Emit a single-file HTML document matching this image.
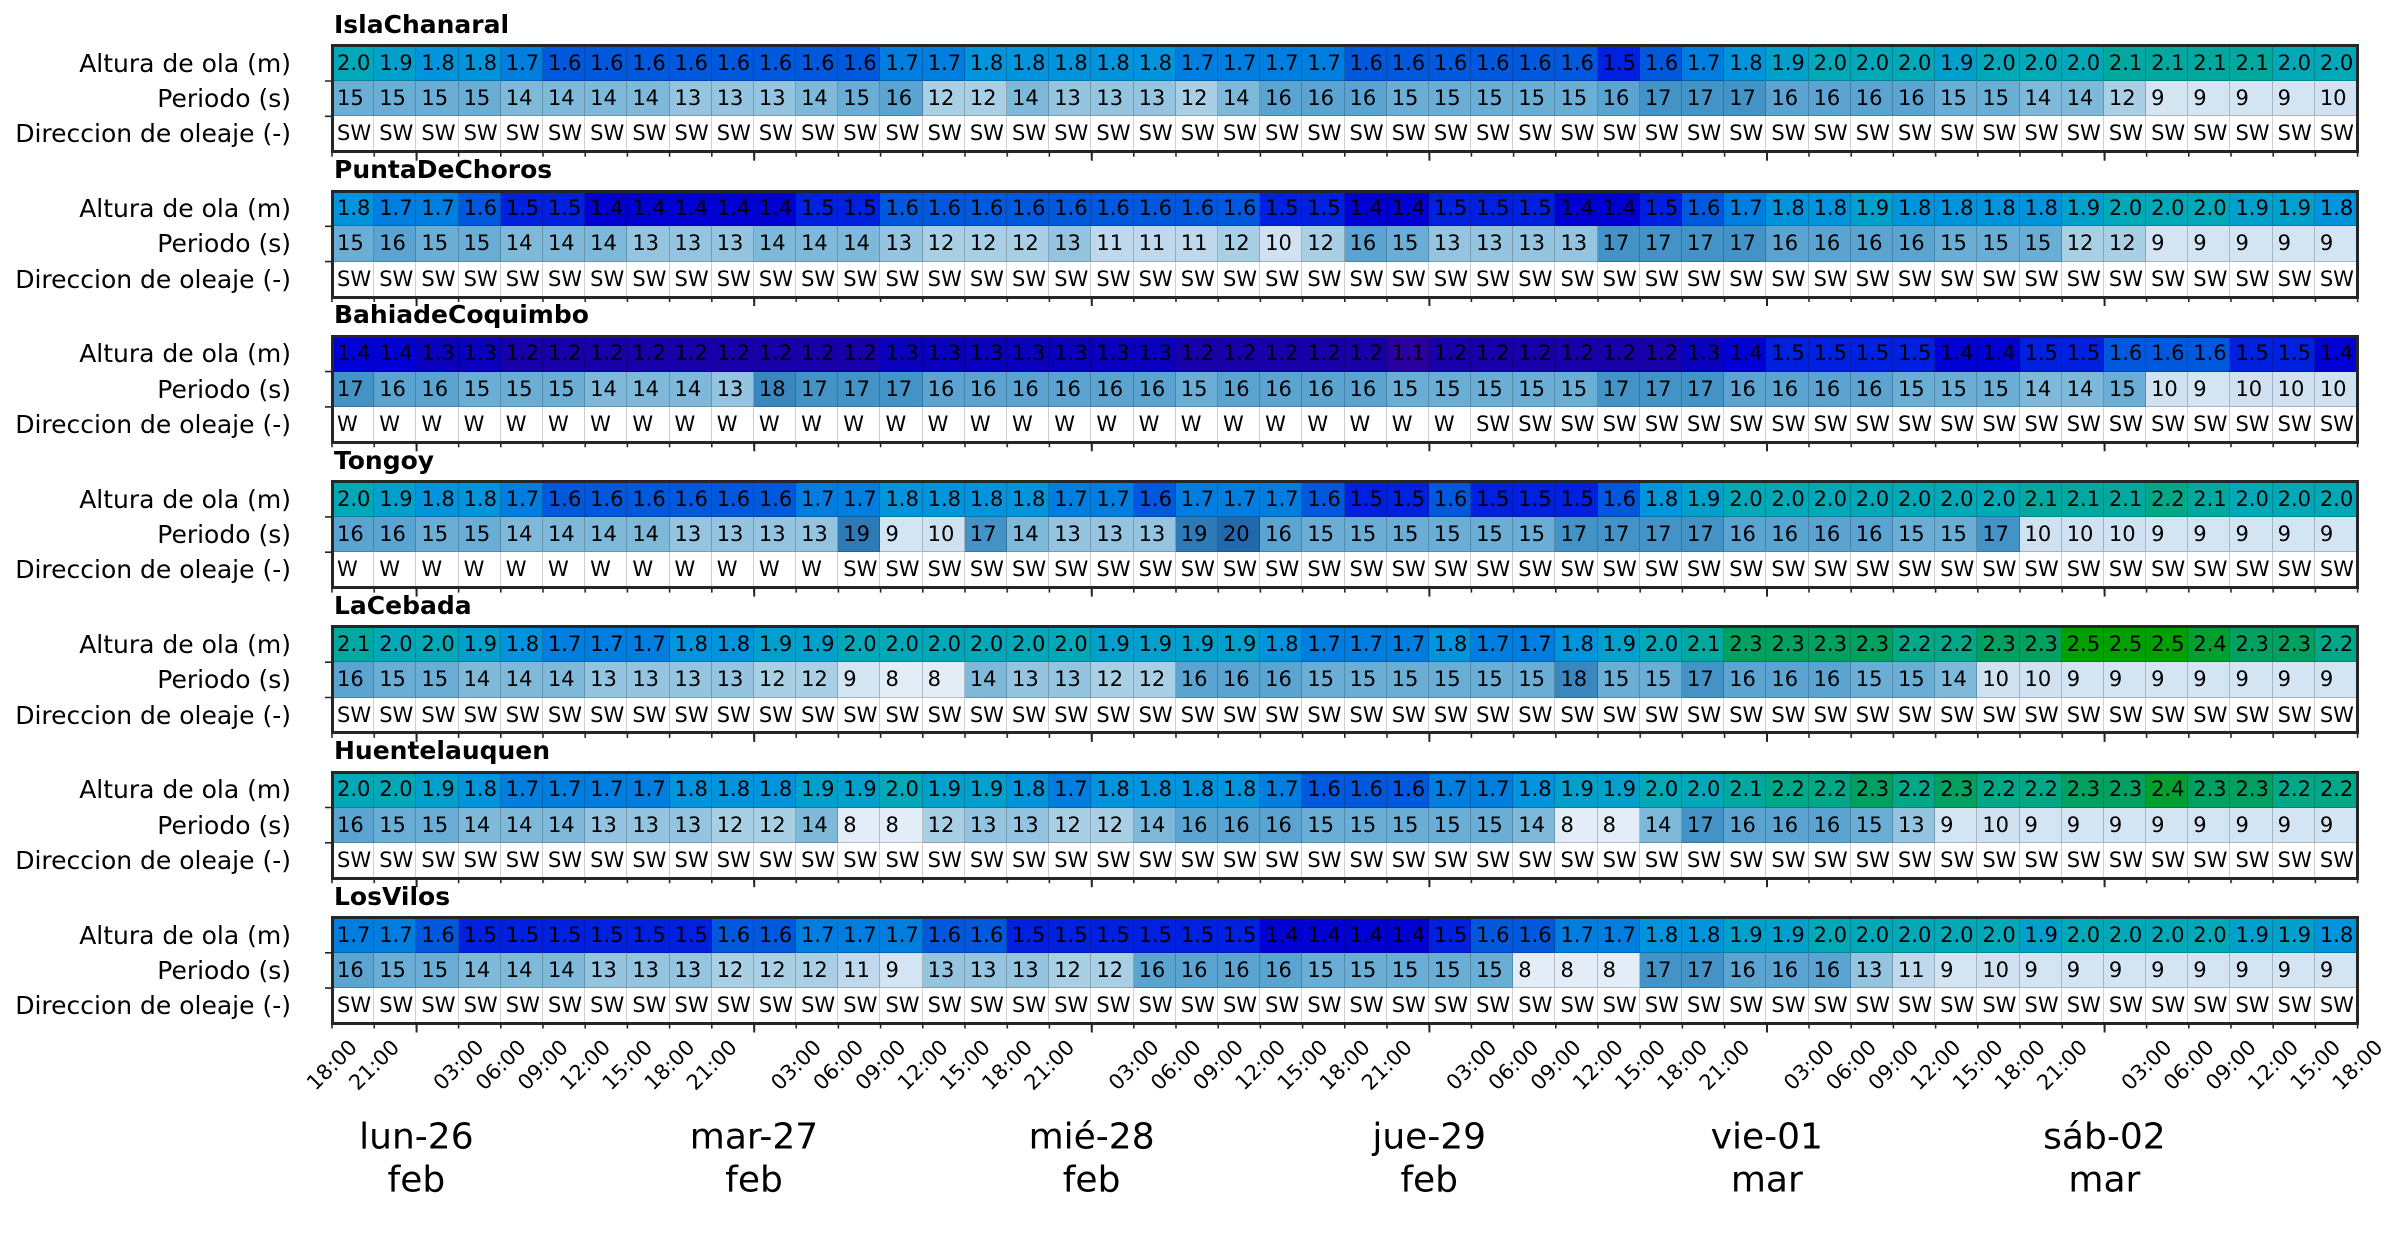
<!DOCTYPE html>
<html><head><meta charset="utf-8"><style>
html,body{margin:0;padding:0;background:#fff}
#w{position:relative;width:2399px;height:1256px;overflow:hidden;font-family:"DejaVu Sans","Liberation Sans",sans-serif;color:#000}
.st{position:absolute;left:332px;width:2025.6px;height:106px}
.r{display:flex;height:35.33px}
.r b{flex:0 0 42.2px;font-weight:normal;font-size:21px;line-height:35.33px;padding-left:5px;box-sizing:border-box;box-shadow:inset -1px -1px rgba(0,0,0,.2);white-space:nowrap;overflow:hidden}
.d b{background:#fff;box-shadow:inset -1px -1px #cfcfcf}
.fr{position:absolute;left:-1.5px;top:-1.5px;right:-1.5px;bottom:-1.5px;border:3px solid #262626}
.tt{position:absolute;left:2px;top:-36px;font-weight:bold;font-size:25px;line-height:30px;white-space:nowrap}
.lb{position:absolute;left:-332px;top:0;width:291px;text-align:right;font-size:25px}
.lb div{height:35.33px;line-height:35.33px;white-space:nowrap}
.c11{background:#2c00a0}.c12{background:#1800a8}.c13{background:#0800bc}.c14{background:#0000d4}.c15{background:#0020e0}.c16{background:#0058dc}.c17{background:#007ee0}.c18{background:#0094dc}.c19{background:#00a0cc}.c20{background:#00a8b8}.c21{background:#00a8a0}.c22{background:#00a888}.c23{background:#00a060}.c24{background:#00a030}.c25{background:#00a000}
.p8{background:#e2edf8}.p9{background:#d3e4f3}.p10{background:#d0e2f2}.p11{background:#bfd8ec}.p12{background:#a9cfe5}.p13{background:#94c4df}.p14{background:#7fb9da}.p15{background:#6aaed6}.p16{background:#5ba3d0}.p17{background:#4493c7}.p18{background:#3a87c0}.p19{background:#2d7ab6}.p20{background:#2268ad}
svg{position:absolute;left:0;top:0}
</style></head><body><div id="w">

<div class="st" style="top:45.7px"><div class="tt">IslaChanaral</div><div class="lb"><div>Altura de ola (m)</div><div>Periodo (s)</div><div>Direccion de oleaje (-)</div></div>
<div class="r"><b class=c20>2.0</b><b class=c19>1.9</b><b class=c18>1.8</b><b class=c18>1.8</b><b class=c17>1.7</b><b class=c16>1.6</b><b class=c16>1.6</b><b class=c16>1.6</b><b class=c16>1.6</b><b class=c16>1.6</b><b class=c16>1.6</b><b class=c16>1.6</b><b class=c16>1.6</b><b class=c17>1.7</b><b class=c17>1.7</b><b class=c18>1.8</b><b class=c18>1.8</b><b class=c18>1.8</b><b class=c18>1.8</b><b class=c18>1.8</b><b class=c17>1.7</b><b class=c17>1.7</b><b class=c17>1.7</b><b class=c17>1.7</b><b class=c16>1.6</b><b class=c16>1.6</b><b class=c16>1.6</b><b class=c16>1.6</b><b class=c16>1.6</b><b class=c16>1.6</b><b class=c15>1.5</b><b class=c16>1.6</b><b class=c17>1.7</b><b class=c18>1.8</b><b class=c19>1.9</b><b class=c20>2.0</b><b class=c20>2.0</b><b class=c20>2.0</b><b class=c19>1.9</b><b class=c20>2.0</b><b class=c20>2.0</b><b class=c20>2.0</b><b class=c21>2.1</b><b class=c21>2.1</b><b class=c21>2.1</b><b class=c21>2.1</b><b class=c20>2.0</b><b class=c20>2.0</b></div>
<div class="r"><b class=p15>15</b><b class=p15>15</b><b class=p15>15</b><b class=p15>15</b><b class=p14>14</b><b class=p14>14</b><b class=p14>14</b><b class=p14>14</b><b class=p13>13</b><b class=p13>13</b><b class=p13>13</b><b class=p14>14</b><b class=p15>15</b><b class=p16>16</b><b class=p12>12</b><b class=p12>12</b><b class=p14>14</b><b class=p13>13</b><b class=p13>13</b><b class=p13>13</b><b class=p12>12</b><b class=p14>14</b><b class=p16>16</b><b class=p16>16</b><b class=p16>16</b><b class=p15>15</b><b class=p15>15</b><b class=p15>15</b><b class=p15>15</b><b class=p15>15</b><b class=p16>16</b><b class=p17>17</b><b class=p17>17</b><b class=p17>17</b><b class=p16>16</b><b class=p16>16</b><b class=p16>16</b><b class=p16>16</b><b class=p15>15</b><b class=p15>15</b><b class=p14>14</b><b class=p14>14</b><b class=p12>12</b><b class=p9>9</b><b class=p9>9</b><b class=p9>9</b><b class=p9>9</b><b class=p10>10</b></div>
<div class="r d"><b>SW</b><b>SW</b><b>SW</b><b>SW</b><b>SW</b><b>SW</b><b>SW</b><b>SW</b><b>SW</b><b>SW</b><b>SW</b><b>SW</b><b>SW</b><b>SW</b><b>SW</b><b>SW</b><b>SW</b><b>SW</b><b>SW</b><b>SW</b><b>SW</b><b>SW</b><b>SW</b><b>SW</b><b>SW</b><b>SW</b><b>SW</b><b>SW</b><b>SW</b><b>SW</b><b>SW</b><b>SW</b><b>SW</b><b>SW</b><b>SW</b><b>SW</b><b>SW</b><b>SW</b><b>SW</b><b>SW</b><b>SW</b><b>SW</b><b>SW</b><b>SW</b><b>SW</b><b>SW</b><b>SW</b><b>SW</b></div>
<div class="fr"></div></div>

<div class="st" style="top:191px"><div class="tt">PuntaDeChoros</div><div class="lb"><div>Altura de ola (m)</div><div>Periodo (s)</div><div>Direccion de oleaje (-)</div></div>
<div class="r"><b class=c18>1.8</b><b class=c17>1.7</b><b class=c17>1.7</b><b class=c16>1.6</b><b class=c15>1.5</b><b class=c15>1.5</b><b class=c14>1.4</b><b class=c14>1.4</b><b class=c14>1.4</b><b class=c14>1.4</b><b class=c14>1.4</b><b class=c15>1.5</b><b class=c15>1.5</b><b class=c16>1.6</b><b class=c16>1.6</b><b class=c16>1.6</b><b class=c16>1.6</b><b class=c16>1.6</b><b class=c16>1.6</b><b class=c16>1.6</b><b class=c16>1.6</b><b class=c16>1.6</b><b class=c15>1.5</b><b class=c15>1.5</b><b class=c14>1.4</b><b class=c14>1.4</b><b class=c15>1.5</b><b class=c15>1.5</b><b class=c15>1.5</b><b class=c14>1.4</b><b class=c14>1.4</b><b class=c15>1.5</b><b class=c16>1.6</b><b class=c17>1.7</b><b class=c18>1.8</b><b class=c18>1.8</b><b class=c19>1.9</b><b class=c18>1.8</b><b class=c18>1.8</b><b class=c18>1.8</b><b class=c18>1.8</b><b class=c19>1.9</b><b class=c20>2.0</b><b class=c20>2.0</b><b class=c20>2.0</b><b class=c19>1.9</b><b class=c19>1.9</b><b class=c18>1.8</b></div>
<div class="r"><b class=p15>15</b><b class=p16>16</b><b class=p15>15</b><b class=p15>15</b><b class=p14>14</b><b class=p14>14</b><b class=p14>14</b><b class=p13>13</b><b class=p13>13</b><b class=p13>13</b><b class=p14>14</b><b class=p14>14</b><b class=p14>14</b><b class=p13>13</b><b class=p12>12</b><b class=p12>12</b><b class=p12>12</b><b class=p13>13</b><b class=p11>11</b><b class=p11>11</b><b class=p11>11</b><b class=p12>12</b><b class=p10>10</b><b class=p12>12</b><b class=p16>16</b><b class=p15>15</b><b class=p13>13</b><b class=p13>13</b><b class=p13>13</b><b class=p13>13</b><b class=p17>17</b><b class=p17>17</b><b class=p17>17</b><b class=p17>17</b><b class=p16>16</b><b class=p16>16</b><b class=p16>16</b><b class=p16>16</b><b class=p15>15</b><b class=p15>15</b><b class=p15>15</b><b class=p12>12</b><b class=p12>12</b><b class=p9>9</b><b class=p9>9</b><b class=p9>9</b><b class=p9>9</b><b class=p9>9</b></div>
<div class="r d"><b>SW</b><b>SW</b><b>SW</b><b>SW</b><b>SW</b><b>SW</b><b>SW</b><b>SW</b><b>SW</b><b>SW</b><b>SW</b><b>SW</b><b>SW</b><b>SW</b><b>SW</b><b>SW</b><b>SW</b><b>SW</b><b>SW</b><b>SW</b><b>SW</b><b>SW</b><b>SW</b><b>SW</b><b>SW</b><b>SW</b><b>SW</b><b>SW</b><b>SW</b><b>SW</b><b>SW</b><b>SW</b><b>SW</b><b>SW</b><b>SW</b><b>SW</b><b>SW</b><b>SW</b><b>SW</b><b>SW</b><b>SW</b><b>SW</b><b>SW</b><b>SW</b><b>SW</b><b>SW</b><b>SW</b><b>SW</b></div>
<div class="fr"></div></div>

<div class="st" style="top:336.3px"><div class="tt">BahiadeCoquimbo</div><div class="lb"><div>Altura de ola (m)</div><div>Periodo (s)</div><div>Direccion de oleaje (-)</div></div>
<div class="r"><b class=c14>1.4</b><b class=c14>1.4</b><b class=c13>1.3</b><b class=c13>1.3</b><b class=c12>1.2</b><b class=c12>1.2</b><b class=c12>1.2</b><b class=c12>1.2</b><b class=c12>1.2</b><b class=c12>1.2</b><b class=c12>1.2</b><b class=c12>1.2</b><b class=c12>1.2</b><b class=c13>1.3</b><b class=c13>1.3</b><b class=c13>1.3</b><b class=c13>1.3</b><b class=c13>1.3</b><b class=c13>1.3</b><b class=c13>1.3</b><b class=c12>1.2</b><b class=c12>1.2</b><b class=c12>1.2</b><b class=c12>1.2</b><b class=c12>1.2</b><b class=c11>1.1</b><b class=c12>1.2</b><b class=c12>1.2</b><b class=c12>1.2</b><b class=c12>1.2</b><b class=c12>1.2</b><b class=c12>1.2</b><b class=c13>1.3</b><b class=c14>1.4</b><b class=c15>1.5</b><b class=c15>1.5</b><b class=c15>1.5</b><b class=c15>1.5</b><b class=c14>1.4</b><b class=c14>1.4</b><b class=c15>1.5</b><b class=c15>1.5</b><b class=c16>1.6</b><b class=c16>1.6</b><b class=c16>1.6</b><b class=c15>1.5</b><b class=c15>1.5</b><b class=c14>1.4</b></div>
<div class="r"><b class=p17>17</b><b class=p16>16</b><b class=p16>16</b><b class=p15>15</b><b class=p15>15</b><b class=p15>15</b><b class=p14>14</b><b class=p14>14</b><b class=p14>14</b><b class=p13>13</b><b class=p18>18</b><b class=p17>17</b><b class=p17>17</b><b class=p17>17</b><b class=p16>16</b><b class=p16>16</b><b class=p16>16</b><b class=p16>16</b><b class=p16>16</b><b class=p16>16</b><b class=p15>15</b><b class=p16>16</b><b class=p16>16</b><b class=p16>16</b><b class=p16>16</b><b class=p15>15</b><b class=p15>15</b><b class=p15>15</b><b class=p15>15</b><b class=p15>15</b><b class=p17>17</b><b class=p17>17</b><b class=p17>17</b><b class=p16>16</b><b class=p16>16</b><b class=p16>16</b><b class=p16>16</b><b class=p15>15</b><b class=p15>15</b><b class=p15>15</b><b class=p14>14</b><b class=p14>14</b><b class=p15>15</b><b class=p10>10</b><b class=p9>9</b><b class=p10>10</b><b class=p10>10</b><b class=p10>10</b></div>
<div class="r d"><b>W</b><b>W</b><b>W</b><b>W</b><b>W</b><b>W</b><b>W</b><b>W</b><b>W</b><b>W</b><b>W</b><b>W</b><b>W</b><b>W</b><b>W</b><b>W</b><b>W</b><b>W</b><b>W</b><b>W</b><b>W</b><b>W</b><b>W</b><b>W</b><b>W</b><b>W</b><b>W</b><b>SW</b><b>SW</b><b>SW</b><b>SW</b><b>SW</b><b>SW</b><b>SW</b><b>SW</b><b>SW</b><b>SW</b><b>SW</b><b>SW</b><b>SW</b><b>SW</b><b>SW</b><b>SW</b><b>SW</b><b>SW</b><b>SW</b><b>SW</b><b>SW</b></div>
<div class="fr"></div></div>

<div class="st" style="top:481.6px"><div class="tt">Tongoy</div><div class="lb"><div>Altura de ola (m)</div><div>Periodo (s)</div><div>Direccion de oleaje (-)</div></div>
<div class="r"><b class=c20>2.0</b><b class=c19>1.9</b><b class=c18>1.8</b><b class=c18>1.8</b><b class=c17>1.7</b><b class=c16>1.6</b><b class=c16>1.6</b><b class=c16>1.6</b><b class=c16>1.6</b><b class=c16>1.6</b><b class=c16>1.6</b><b class=c17>1.7</b><b class=c17>1.7</b><b class=c18>1.8</b><b class=c18>1.8</b><b class=c18>1.8</b><b class=c18>1.8</b><b class=c17>1.7</b><b class=c17>1.7</b><b class=c16>1.6</b><b class=c17>1.7</b><b class=c17>1.7</b><b class=c17>1.7</b><b class=c16>1.6</b><b class=c15>1.5</b><b class=c15>1.5</b><b class=c16>1.6</b><b class=c15>1.5</b><b class=c15>1.5</b><b class=c15>1.5</b><b class=c16>1.6</b><b class=c18>1.8</b><b class=c19>1.9</b><b class=c20>2.0</b><b class=c20>2.0</b><b class=c20>2.0</b><b class=c20>2.0</b><b class=c20>2.0</b><b class=c20>2.0</b><b class=c20>2.0</b><b class=c21>2.1</b><b class=c21>2.1</b><b class=c21>2.1</b><b class=c22>2.2</b><b class=c21>2.1</b><b class=c20>2.0</b><b class=c20>2.0</b><b class=c20>2.0</b></div>
<div class="r"><b class=p16>16</b><b class=p16>16</b><b class=p15>15</b><b class=p15>15</b><b class=p14>14</b><b class=p14>14</b><b class=p14>14</b><b class=p14>14</b><b class=p13>13</b><b class=p13>13</b><b class=p13>13</b><b class=p13>13</b><b class=p19>19</b><b class=p9>9</b><b class=p10>10</b><b class=p17>17</b><b class=p14>14</b><b class=p13>13</b><b class=p13>13</b><b class=p13>13</b><b class=p19>19</b><b class=p20>20</b><b class=p16>16</b><b class=p15>15</b><b class=p15>15</b><b class=p15>15</b><b class=p15>15</b><b class=p15>15</b><b class=p15>15</b><b class=p17>17</b><b class=p17>17</b><b class=p17>17</b><b class=p17>17</b><b class=p16>16</b><b class=p16>16</b><b class=p16>16</b><b class=p16>16</b><b class=p15>15</b><b class=p15>15</b><b class=p17>17</b><b class=p10>10</b><b class=p10>10</b><b class=p10>10</b><b class=p9>9</b><b class=p9>9</b><b class=p9>9</b><b class=p9>9</b><b class=p9>9</b></div>
<div class="r d"><b>W</b><b>W</b><b>W</b><b>W</b><b>W</b><b>W</b><b>W</b><b>W</b><b>W</b><b>W</b><b>W</b><b>W</b><b>SW</b><b>SW</b><b>SW</b><b>SW</b><b>SW</b><b>SW</b><b>SW</b><b>SW</b><b>SW</b><b>SW</b><b>SW</b><b>SW</b><b>SW</b><b>SW</b><b>SW</b><b>SW</b><b>SW</b><b>SW</b><b>SW</b><b>SW</b><b>SW</b><b>SW</b><b>SW</b><b>SW</b><b>SW</b><b>SW</b><b>SW</b><b>SW</b><b>SW</b><b>SW</b><b>SW</b><b>SW</b><b>SW</b><b>SW</b><b>SW</b><b>SW</b></div>
<div class="fr"></div></div>

<div class="st" style="top:626.9px"><div class="tt">LaCebada</div><div class="lb"><div>Altura de ola (m)</div><div>Periodo (s)</div><div>Direccion de oleaje (-)</div></div>
<div class="r"><b class=c21>2.1</b><b class=c20>2.0</b><b class=c20>2.0</b><b class=c19>1.9</b><b class=c18>1.8</b><b class=c17>1.7</b><b class=c17>1.7</b><b class=c17>1.7</b><b class=c18>1.8</b><b class=c18>1.8</b><b class=c19>1.9</b><b class=c19>1.9</b><b class=c20>2.0</b><b class=c20>2.0</b><b class=c20>2.0</b><b class=c20>2.0</b><b class=c20>2.0</b><b class=c20>2.0</b><b class=c19>1.9</b><b class=c19>1.9</b><b class=c19>1.9</b><b class=c19>1.9</b><b class=c18>1.8</b><b class=c17>1.7</b><b class=c17>1.7</b><b class=c17>1.7</b><b class=c18>1.8</b><b class=c17>1.7</b><b class=c17>1.7</b><b class=c18>1.8</b><b class=c19>1.9</b><b class=c20>2.0</b><b class=c21>2.1</b><b class=c23>2.3</b><b class=c23>2.3</b><b class=c23>2.3</b><b class=c23>2.3</b><b class=c22>2.2</b><b class=c22>2.2</b><b class=c23>2.3</b><b class=c23>2.3</b><b class=c25>2.5</b><b class=c25>2.5</b><b class=c25>2.5</b><b class=c24>2.4</b><b class=c23>2.3</b><b class=c23>2.3</b><b class=c22>2.2</b></div>
<div class="r"><b class=p16>16</b><b class=p15>15</b><b class=p15>15</b><b class=p14>14</b><b class=p14>14</b><b class=p14>14</b><b class=p13>13</b><b class=p13>13</b><b class=p13>13</b><b class=p13>13</b><b class=p12>12</b><b class=p12>12</b><b class=p9>9</b><b class=p8>8</b><b class=p8>8</b><b class=p14>14</b><b class=p13>13</b><b class=p13>13</b><b class=p12>12</b><b class=p12>12</b><b class=p16>16</b><b class=p16>16</b><b class=p16>16</b><b class=p15>15</b><b class=p15>15</b><b class=p15>15</b><b class=p15>15</b><b class=p15>15</b><b class=p15>15</b><b class=p18>18</b><b class=p15>15</b><b class=p15>15</b><b class=p17>17</b><b class=p16>16</b><b class=p16>16</b><b class=p16>16</b><b class=p15>15</b><b class=p15>15</b><b class=p14>14</b><b class=p10>10</b><b class=p10>10</b><b class=p9>9</b><b class=p9>9</b><b class=p9>9</b><b class=p9>9</b><b class=p9>9</b><b class=p9>9</b><b class=p9>9</b></div>
<div class="r d"><b>SW</b><b>SW</b><b>SW</b><b>SW</b><b>SW</b><b>SW</b><b>SW</b><b>SW</b><b>SW</b><b>SW</b><b>SW</b><b>SW</b><b>SW</b><b>SW</b><b>SW</b><b>SW</b><b>SW</b><b>SW</b><b>SW</b><b>SW</b><b>SW</b><b>SW</b><b>SW</b><b>SW</b><b>SW</b><b>SW</b><b>SW</b><b>SW</b><b>SW</b><b>SW</b><b>SW</b><b>SW</b><b>SW</b><b>SW</b><b>SW</b><b>SW</b><b>SW</b><b>SW</b><b>SW</b><b>SW</b><b>SW</b><b>SW</b><b>SW</b><b>SW</b><b>SW</b><b>SW</b><b>SW</b><b>SW</b></div>
<div class="fr"></div></div>

<div class="st" style="top:772.2px"><div class="tt">Huentelauquen</div><div class="lb"><div>Altura de ola (m)</div><div>Periodo (s)</div><div>Direccion de oleaje (-)</div></div>
<div class="r"><b class=c20>2.0</b><b class=c20>2.0</b><b class=c19>1.9</b><b class=c18>1.8</b><b class=c17>1.7</b><b class=c17>1.7</b><b class=c17>1.7</b><b class=c17>1.7</b><b class=c18>1.8</b><b class=c18>1.8</b><b class=c18>1.8</b><b class=c19>1.9</b><b class=c19>1.9</b><b class=c20>2.0</b><b class=c19>1.9</b><b class=c19>1.9</b><b class=c18>1.8</b><b class=c17>1.7</b><b class=c18>1.8</b><b class=c18>1.8</b><b class=c18>1.8</b><b class=c18>1.8</b><b class=c17>1.7</b><b class=c16>1.6</b><b class=c16>1.6</b><b class=c16>1.6</b><b class=c17>1.7</b><b class=c17>1.7</b><b class=c18>1.8</b><b class=c19>1.9</b><b class=c19>1.9</b><b class=c20>2.0</b><b class=c20>2.0</b><b class=c21>2.1</b><b class=c22>2.2</b><b class=c22>2.2</b><b class=c23>2.3</b><b class=c22>2.2</b><b class=c23>2.3</b><b class=c22>2.2</b><b class=c22>2.2</b><b class=c23>2.3</b><b class=c23>2.3</b><b class=c24>2.4</b><b class=c23>2.3</b><b class=c23>2.3</b><b class=c22>2.2</b><b class=c22>2.2</b></div>
<div class="r"><b class=p16>16</b><b class=p15>15</b><b class=p15>15</b><b class=p14>14</b><b class=p14>14</b><b class=p14>14</b><b class=p13>13</b><b class=p13>13</b><b class=p13>13</b><b class=p12>12</b><b class=p12>12</b><b class=p14>14</b><b class=p8>8</b><b class=p8>8</b><b class=p12>12</b><b class=p13>13</b><b class=p13>13</b><b class=p12>12</b><b class=p12>12</b><b class=p14>14</b><b class=p16>16</b><b class=p16>16</b><b class=p16>16</b><b class=p15>15</b><b class=p15>15</b><b class=p15>15</b><b class=p15>15</b><b class=p15>15</b><b class=p14>14</b><b class=p8>8</b><b class=p8>8</b><b class=p14>14</b><b class=p17>17</b><b class=p16>16</b><b class=p16>16</b><b class=p16>16</b><b class=p15>15</b><b class=p13>13</b><b class=p9>9</b><b class=p10>10</b><b class=p9>9</b><b class=p9>9</b><b class=p9>9</b><b class=p9>9</b><b class=p9>9</b><b class=p9>9</b><b class=p9>9</b><b class=p9>9</b></div>
<div class="r d"><b>SW</b><b>SW</b><b>SW</b><b>SW</b><b>SW</b><b>SW</b><b>SW</b><b>SW</b><b>SW</b><b>SW</b><b>SW</b><b>SW</b><b>SW</b><b>SW</b><b>SW</b><b>SW</b><b>SW</b><b>SW</b><b>SW</b><b>SW</b><b>SW</b><b>SW</b><b>SW</b><b>SW</b><b>SW</b><b>SW</b><b>SW</b><b>SW</b><b>SW</b><b>SW</b><b>SW</b><b>SW</b><b>SW</b><b>SW</b><b>SW</b><b>SW</b><b>SW</b><b>SW</b><b>SW</b><b>SW</b><b>SW</b><b>SW</b><b>SW</b><b>SW</b><b>SW</b><b>SW</b><b>SW</b><b>SW</b></div>
<div class="fr"></div></div>

<div class="st" style="top:917.5px"><div class="tt">LosVilos</div><div class="lb"><div>Altura de ola (m)</div><div>Periodo (s)</div><div>Direccion de oleaje (-)</div></div>
<div class="r"><b class=c17>1.7</b><b class=c17>1.7</b><b class=c16>1.6</b><b class=c15>1.5</b><b class=c15>1.5</b><b class=c15>1.5</b><b class=c15>1.5</b><b class=c15>1.5</b><b class=c15>1.5</b><b class=c16>1.6</b><b class=c16>1.6</b><b class=c17>1.7</b><b class=c17>1.7</b><b class=c17>1.7</b><b class=c16>1.6</b><b class=c16>1.6</b><b class=c15>1.5</b><b class=c15>1.5</b><b class=c15>1.5</b><b class=c15>1.5</b><b class=c15>1.5</b><b class=c15>1.5</b><b class=c14>1.4</b><b class=c14>1.4</b><b class=c14>1.4</b><b class=c14>1.4</b><b class=c15>1.5</b><b class=c16>1.6</b><b class=c16>1.6</b><b class=c17>1.7</b><b class=c17>1.7</b><b class=c18>1.8</b><b class=c18>1.8</b><b class=c19>1.9</b><b class=c19>1.9</b><b class=c20>2.0</b><b class=c20>2.0</b><b class=c20>2.0</b><b class=c20>2.0</b><b class=c20>2.0</b><b class=c19>1.9</b><b class=c20>2.0</b><b class=c20>2.0</b><b class=c20>2.0</b><b class=c20>2.0</b><b class=c19>1.9</b><b class=c19>1.9</b><b class=c18>1.8</b></div>
<div class="r"><b class=p16>16</b><b class=p15>15</b><b class=p15>15</b><b class=p14>14</b><b class=p14>14</b><b class=p14>14</b><b class=p13>13</b><b class=p13>13</b><b class=p13>13</b><b class=p12>12</b><b class=p12>12</b><b class=p12>12</b><b class=p11>11</b><b class=p9>9</b><b class=p13>13</b><b class=p13>13</b><b class=p13>13</b><b class=p12>12</b><b class=p12>12</b><b class=p16>16</b><b class=p16>16</b><b class=p16>16</b><b class=p16>16</b><b class=p15>15</b><b class=p15>15</b><b class=p15>15</b><b class=p15>15</b><b class=p15>15</b><b class=p8>8</b><b class=p8>8</b><b class=p8>8</b><b class=p17>17</b><b class=p17>17</b><b class=p16>16</b><b class=p16>16</b><b class=p16>16</b><b class=p13>13</b><b class=p11>11</b><b class=p9>9</b><b class=p10>10</b><b class=p9>9</b><b class=p9>9</b><b class=p9>9</b><b class=p9>9</b><b class=p9>9</b><b class=p9>9</b><b class=p9>9</b><b class=p9>9</b></div>
<div class="r d"><b>SW</b><b>SW</b><b>SW</b><b>SW</b><b>SW</b><b>SW</b><b>SW</b><b>SW</b><b>SW</b><b>SW</b><b>SW</b><b>SW</b><b>SW</b><b>SW</b><b>SW</b><b>SW</b><b>SW</b><b>SW</b><b>SW</b><b>SW</b><b>SW</b><b>SW</b><b>SW</b><b>SW</b><b>SW</b><b>SW</b><b>SW</b><b>SW</b><b>SW</b><b>SW</b><b>SW</b><b>SW</b><b>SW</b><b>SW</b><b>SW</b><b>SW</b><b>SW</b><b>SW</b><b>SW</b><b>SW</b><b>SW</b><b>SW</b><b>SW</b><b>SW</b><b>SW</b><b>SW</b><b>SW</b><b>SW</b></div>
<div class="fr"></div></div>

<svg width="2399" height="1256" viewBox="0 0 2399 1256" font-family="DejaVu Sans, Liberation Sans, sans-serif">
<defs>
<pattern id="pm" x="331.2" y="0" width="42.2" height="20" patternUnits="userSpaceOnUse"><rect width="1.6" height="20" fill="#262626"/></pattern>
<pattern id="pM" x="415.6" y="0" width="337.6" height="20" patternUnits="userSpaceOnUse"><rect width="2" height="20" fill="#262626"/></pattern>
<g id="tk">
<rect x="330" y="106" width="2030" height="5" fill="url(#pm)"/>
<rect x="330" y="106" width="2030" height="9" fill="url(#pM)"/>
<path d="M325 35.3H332M325 70.6H332" stroke="#262626" stroke-width="1.6"/>
</g>
</defs>
<use href="#tk" y="45.7"/><use href="#tk" y="191"/><use href="#tk" y="336.3"/><use href="#tk" y="481.6"/><use href="#tk" y="626.9"/><use href="#tk" y="772.2"/><use href="#tk" y="917.5"/>
<g font-size="21" text-anchor="middle" dominant-baseline="central">
<text transform="translate(332,1065) rotate(-45)">18:00</text>
<text transform="translate(374.2,1065) rotate(-45)">21:00</text>
<text transform="translate(458.6,1065) rotate(-45)">03:00</text>
<text transform="translate(500.8,1065) rotate(-45)">06:00</text>
<text transform="translate(543,1065) rotate(-45)">09:00</text>
<text transform="translate(585.2,1065) rotate(-45)">12:00</text>
<text transform="translate(627.4,1065) rotate(-45)">15:00</text>
<text transform="translate(669.6,1065) rotate(-45)">18:00</text>
<text transform="translate(711.8,1065) rotate(-45)">21:00</text>
<text transform="translate(796.2,1065) rotate(-45)">03:00</text>
<text transform="translate(838.4,1065) rotate(-45)">06:00</text>
<text transform="translate(880.6,1065) rotate(-45)">09:00</text>
<text transform="translate(922.8,1065) rotate(-45)">12:00</text>
<text transform="translate(965,1065) rotate(-45)">15:00</text>
<text transform="translate(1007.2,1065) rotate(-45)">18:00</text>
<text transform="translate(1049.4,1065) rotate(-45)">21:00</text>
<text transform="translate(1133.8,1065) rotate(-45)">03:00</text>
<text transform="translate(1176,1065) rotate(-45)">06:00</text>
<text transform="translate(1218.2,1065) rotate(-45)">09:00</text>
<text transform="translate(1260.4,1065) rotate(-45)">12:00</text>
<text transform="translate(1302.6,1065) rotate(-45)">15:00</text>
<text transform="translate(1344.8,1065) rotate(-45)">18:00</text>
<text transform="translate(1387,1065) rotate(-45)">21:00</text>
<text transform="translate(1471.4,1065) rotate(-45)">03:00</text>
<text transform="translate(1513.6,1065) rotate(-45)">06:00</text>
<text transform="translate(1555.8,1065) rotate(-45)">09:00</text>
<text transform="translate(1598,1065) rotate(-45)">12:00</text>
<text transform="translate(1640.2,1065) rotate(-45)">15:00</text>
<text transform="translate(1682.4,1065) rotate(-45)">18:00</text>
<text transform="translate(1724.6,1065) rotate(-45)">21:00</text>
<text transform="translate(1809,1065) rotate(-45)">03:00</text>
<text transform="translate(1851.2,1065) rotate(-45)">06:00</text>
<text transform="translate(1893.4,1065) rotate(-45)">09:00</text>
<text transform="translate(1935.6,1065) rotate(-45)">12:00</text>
<text transform="translate(1977.8,1065) rotate(-45)">15:00</text>
<text transform="translate(2020,1065) rotate(-45)">18:00</text>
<text transform="translate(2062.2,1065) rotate(-45)">21:00</text>
<text transform="translate(2146.6,1065) rotate(-45)">03:00</text>
<text transform="translate(2188.8,1065) rotate(-45)">06:00</text>
<text transform="translate(2231,1065) rotate(-45)">09:00</text>
<text transform="translate(2273.2,1065) rotate(-45)">12:00</text>
<text transform="translate(2315.4,1065) rotate(-45)">15:00</text>
<text transform="translate(2357.6,1065) rotate(-45)">18:00</text>
</g>
<g font-size="36" text-anchor="middle" dominant-baseline="central">
<text x="416.4" y="1137">lun-26</text><text x="416.4" y="1180">feb</text>
<text x="754" y="1137">mar-27</text><text x="754" y="1180">feb</text>
<text x="1091.6" y="1137">mié-28</text><text x="1091.6" y="1180">feb</text>
<text x="1429.2" y="1137">jue-29</text><text x="1429.2" y="1180">feb</text>
<text x="1766.8" y="1137">vie-01</text><text x="1766.8" y="1180">mar</text>
<text x="2104.4" y="1137">sáb-02</text><text x="2104.4" y="1180">mar</text>
</g>
</svg>
</div></body></html>
